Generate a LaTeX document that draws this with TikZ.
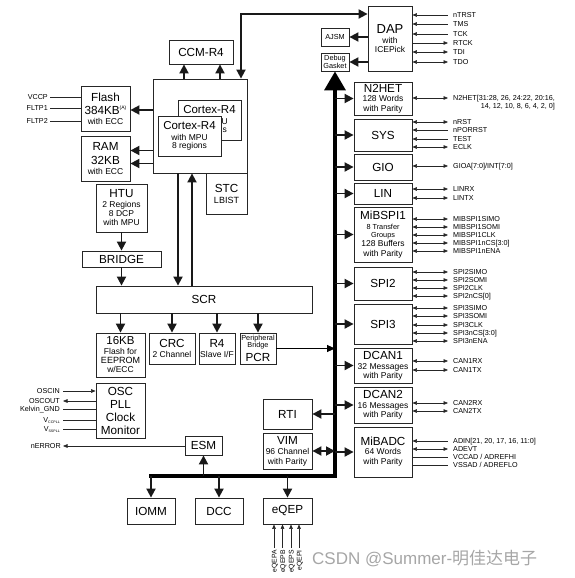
\documentclass[tikz,border=0pt]{standalone}
\usepackage{fontspec}
\setmainfont{Liberation Sans}
\newfontfamily\cjkfont{Noto Sans CJK SC}
\usetikzlibrary{arrows.meta,calc}
\newcommand\fs[2]{\fontsize{#1}{#2}\selectfont}
\newcommand\smt[1]{{\fs{8.5}{9}#1}}
\newcommand\tnt[1]{{\fs{7.3}{8}#1}}
\tikzset{
 box/.style={draw=black!85,line width=0.8pt,fill=white,inner sep=0pt,align=center,font=\fs{11.7}{13}},
 thk/.style={line width=1.8pt,draw=black!90,>={Triangle[length=9pt,width=9pt]}},
 sig/.style={line width=0.6pt,draw=black!85,>={Triangle[length=4.5pt,width=3.6pt]}},
 sigl/.style={font=\fs{7.2}{8},inner sep=0pt,text height=5.2pt,text depth=0pt},
 busln/.style={line width=3.5pt,draw=black,line join=miter},
}
\newcommand\rsig[5]{\node[sigl,anchor=west] (#1) at (453,#3) {#5};
 \draw[sig,#4] (#2.east |- #1.west) -- ($(#1.west)+(-5,0)$);}
\newcommand\lsig[6]{\node[sigl,anchor=east] (#1) at (#3) {#5};
 \draw[sig,#4] ($(#1.east)+(#6,0)$) -- (#2.west |- #1.east);}
\begin{document}
\begin{tikzpicture}[x=1pt,y=-1pt]
\useasboundingbox (0,0) rectangle (575,578);
% ---------- CPU area ----------
\node[box,minimum width=64pt,minimum height=24pt] (ccm) at (201,52) {CCM-R4};
\node[box,minimum width=94pt,minimum height=94pt] (cpu) at (200,126) {};
\node[box,minimum width=63pt,minimum height=40pt] (cortexb) at (209.5,120) {{\fs{11.5}{12}Cortex-R4}\\[-2.5pt]\smt{with MPU}\\[-4.5pt]\smt{8 regions}};
\node[box,minimum width=63pt,minimum height=40pt] (cortexf) at (189.5,136) {{\fs{11.5}{12}Cortex-R4}\\[-2.5pt]\smt{with MPU}\\[-4.5pt]\smt{8 regions}};
\node[box,minimum width=49pt,minimum height=45pt] (flash) at (105.5,108.5) {Flash\\384KB\raisebox{4.5pt}{\fs{5}{5}(A)}\\[-3pt]\smt{with ECC}};
\node[box,minimum width=49pt,minimum height=45pt] (ram) at (105.5,158.5) {RAM\\[1pt]32KB\\[-3pt]\smt{with ECC}};
\node[box,minimum width=41pt,minimum height=41pt] (stc) at (226.5,193.5) {STC\\[-2pt]{\fs{9}{10}LBIST}};
\node[box,minimum width=51pt,minimum height=48pt] (htu) at (121.5,208) {HTU\\[-3pt]\smt{2 Regions}\\[-4pt]\smt{8 DCP}\\[-4pt]\smt{with MPU}};
\node[box,minimum width=79pt,minimum height=16pt] (bridge) at (121.5,259) {BRIDGE};
\node[box,minimum width=216pt,minimum height=27pt] (scr) at (204,299.5) {SCR};
\node[box,minimum width=49pt,minimum height=44pt] (kb16) at (120.5,355) {{\fs{11.5}{12}16KB}\\[-3pt]\smt{Flash for}\\[-4pt]{\fs{9}{9}EEPROM}\\[-4pt]\smt{w/ECC}};
\node[box,minimum width=46pt,minimum height=31pt] (crc) at (172,348.5) {CRC\\[-3pt]\smt{2 Channel}};
\node[box,minimum width=36pt,minimum height=31pt] (r4) at (217,348.5) {R4\\[-3pt]\smt{Slave I/F}};
\node[box,minimum width=36pt,minimum height=31pt] (pcr) at (258,348.5) {\tnt{Peripheral}\\[-6pt]\tnt{Bridge}\\[1pt]PCR};
\node[box,minimum width=49pt,minimum height=55pt] (osc) at (120.5,410.5) {OSC\\PLL\\Clock\\Monitor};
\node[box,minimum width=37pt,minimum height=19pt] (esm) at (203.5,445.5) {ESM};
\node[box,minimum width=48pt,minimum height=26pt] (iomm) at (151,511) {IOMM};
\node[box,minimum width=48pt,minimum height=26pt] (dcc) at (219,511) {DCC};
\node[box,minimum width=49pt,minimum height=26pt] (eqep) at (287.5,511) {eQEP};
\node[box,minimum width=49pt,minimum height=30pt] (rti) at (287.5,414) {RTI};
\node[box,minimum width=49pt,minimum height=36pt] (vim) at (287.5,451) {VIM\\[-3pt]\smt{96 Channel}\\[-3pt]\smt{with Parity}};
% ---------- debug ----------
\node[box,minimum width=44pt,minimum height=65pt] (dap) at (390,38.5) {{\fs{13}{14}DAP}\\[-3pt]\smt{with}\\[-4pt]\smt{ICEPick}};
\node[box,minimum width=28pt,minimum height=18pt] (ajsm) at (335,37) {\tnt{AJSM}};
\node[box,minimum width=28pt,minimum height=18pt] (dbg) at (335,62) {\tnt{Debug}\\[-5pt]\tnt{Gasket}};
% ---------- peripherals ----------
\tikzset{per/.style={box,minimum width=58pt}}
\node[per,minimum height=33pt] (n2het) at (383,98.5) {N2HET\\[-4pt]\smt{128 Words}\\[-3pt]\smt{with Parity}};
\node[per,minimum height=32pt] (sys) at (383,135) {SYS};
\node[per,minimum height=26pt] (gio) at (383,167) {GIO};
\node[per,minimum height=21pt] (lin) at (383,193.5) {LIN};
\node[per,minimum height=55pt] (mibspi) at (383,234.5) {MiBSPI1\\[-3pt]\tnt{8 Transfer}\\[-5pt]\tnt{Groups}\\[-4pt]\smt{128 Buffers}\\[-3pt]\smt{with Parity}};
\node[per,minimum height=33pt] (spi2) at (383,283.5) {SPI2};
\node[per,minimum height=40pt] (spi3) at (383,324) {SPI3};
\node[per,minimum height=35pt] (dcan1) at (383,365.5) {DCAN1\\[-3pt]\smt{32 Messages}\\[-4pt]\smt{with Parity}};
\node[per,minimum height=36pt] (dcan2) at (383,405) {DCAN2\\[-3pt]\smt{16 Messages}\\[-4pt]\smt{with Parity}};
\node[per,minimum height=50pt] (mibadc) at (383,452) {MiBADC\\[-4pt]\smt{64 Words}\\[-3pt]\smt{with Parity}};
% ---------- main connectors ----------
\coordinate (c1) at ($(ccm.south)+(-17,0)$);
\coordinate (c2) at ($(ccm.south)+(19,0)$);
\draw[thk,->] (c1 |- cpu.north) -- (c1);
\draw[thk,->] (c2 |- cpu.north) -- (c2);
\coordinate (jt) at (241,14);
\draw[thk,<->] (jt |- cpu.north) -- (jt) -- (jt -| dap.west);
\draw[thk,->] (dap.west |- ajsm.east) -- (ajsm.east);
\draw[thk,->] (dap.west |- dbg.east) -- (dbg.east);
\coordinate (f1) at ($(flash.east)+(0,1.5)$);
\draw[thk,->] (cpu.west |- f1) -- (f1);
\coordinate (r1) at ($(ram.east)+(0,-8)$);
\coordinate (r2) at ($(ram.east)+(0,5)$);
\draw[thk,->] (cpu.west |- r1) -- (r1);
\draw[thk,->] (cpu.west |- r2) -- (r2);
\coordinate (k1) at (178,0);
\coordinate (k2) at (192,0);
\draw[thk,->] (k1 |- cpu.south) -- (k1 |- scr.north);
\draw[thk,<-] (k2 |- cpu.south) -- (k2 |- scr.north);
\draw[thk,->] (htu.south) -- (bridge.north);
\draw[thk,->] (bridge.south) -- (bridge.south |- scr.north);
\draw[thk,->] (kb16.north |- scr.south) -- (kb16.north);
\draw[thk,->] (crc.north |- scr.south) -- (crc.north);
\draw[thk,->] (r4.north |- scr.south) -- (r4.north);
\draw[thk,->] (pcr.north |- scr.south) -- (pcr.north);
% ---------- bus ----------
\coordinate (busbot) at (335,476);
\draw[busln,-{Triangle[length=19pt,width=21pt]}] (149,476) -- (busbot) -- (dbg.south);
\draw[line width=0.9pt,-{Triangle[length=8pt,width=7pt]}] (pcr.east) -- (busbot |- pcr.east);
\foreach \n in {n2het,sys,gio,lin,mibspi,spi2,spi3,dcan1,dcan2,mibadc}
  \draw[thk,->] (busbot |- \n.west) -- (\n.west);
\draw[thk,->] (busbot |- rti.east) -- (rti.east);
\draw[thk,<->] (vim.east) -- (busbot |- vim.east);
\draw[thk,->] (esm.south |- busbot) -- (esm.south);
\draw[thk,->] (iomm.north |- busbot) -- (iomm.north);
\draw[thk,->] (dcc.north |- busbot) -- (dcc.north);
\draw[thk,->] (eqep.north |- busbot) -- (eqep.north);
% ---------- right signals ----------
\rsig{s1}{dap}{15}{<-}{nTRST}
\rsig{s2}{dap}{24}{<-}{TMS}
\rsig{s3}{dap}{34}{<-}{TCK}
\rsig{s4}{dap}{43}{->}{RTCK}
\rsig{s5}{dap}{52}{<->}{TDI}
\rsig{s6}{dap}{62}{<->}{TDO}
\rsig{n2a}{n2het}{98}{<->}{N2HET[31:28, 26, 24:22, 20:16,}
\node[sigl,anchor=east] (n2b) at ($(n2a.east)+(0,7.5)$) {14, 12, 10, 8, 6, 4, 2, 0]};
\rsig{y1}{sys}{122}{<->}{nRST}
\rsig{y2}{sys}{130}{<-}{nPORRST}
\rsig{y3}{sys}{139}{<-}{TEST}
\rsig{y4}{sys}{147}{<->}{ECLK}
\rsig{g1}{gio}{166}{<->}{GIOA[7:0]/INT[7:0]}
\rsig{l1}{lin}{189}{<->}{LINRX}
\rsig{l2}{lin}{198}{<->}{LINTX}
\rsig{m1}{mibspi}{219}{<->}{MIBSPI1SIMO}
\rsig{m2}{mibspi}{227}{<->}{MIBSPI1SOMI}
\rsig{m3}{mibspi}{235}{<->}{MIBSPI1CLK}
\rsig{m4}{mibspi}{243}{<->}{MIBSPI1nCS[3:0]}
\rsig{m5}{mibspi}{251}{<->}{MIBSPI1nENA}
\rsig{p1}{spi2}{272}{<->}{SPI2SIMO}
\rsig{p2}{spi2}{280}{<->}{SPI2SOMI}
\rsig{p3}{spi2}{288}{<->}{SPI2CLK}
\rsig{p4}{spi2}{296}{<->}{SPI2nCS[0]}
\rsig{q1}{spi3}{308}{<->}{SPI3SIMO}
\rsig{q2}{spi3}{316}{<->}{SPI3SOMI}
\rsig{q3}{spi3}{325}{<->}{SPI3CLK}
\rsig{q4}{spi3}{333}{<->}{SPI3nCS[3:0]}
\rsig{q5}{spi3}{341}{<->}{SPI3nENA}
\rsig{c1s}{dcan1}{361}{<->}{CAN1RX}
\rsig{c2s}{dcan1}{370}{<->}{CAN1TX}
\rsig{c3s}{dcan2}{403}{<->}{CAN2RX}
\rsig{c4s}{dcan2}{411}{<->}{CAN2TX}
\rsig{a1}{mibadc}{441}{<-}{ADIN[21, 20, 17, 16, 11:0]}
\rsig{a2}{mibadc}{449}{<->}{ADEVT}
\rsig{a3}{mibadc}{457}{-}{VCCAD / ADREFHI}
\rsig{a4}{mibadc}{465}{-}{VSSAD / ADREFLO}
% ---------- left signals ----------
\lsig{v1}{flash}{48,97}{-}{VCCP}{2}
\lsig{v2}{flash}{48,108}{-}{FLTP1}{2}
\lsig{v3}{flash}{48,121}{-}{FLTP2}{2}
\lsig{o1}{osc}{60,391}{->}{OSCIN}{3}
\lsig{o2}{osc}{60,401}{<-}{OSCOUT}{3}
\lsig{o3}{osc}{60,409}{-}{Kelvin\_GND}{3}
\lsig{o4}{osc}{60,420}{-}{V\raisebox{-1pt}{\fs{3.6}{4}CCPLL}}{3}
\lsig{o5}{osc}{60,429}{-}{V\raisebox{-1pt}{\fs{3.6}{4}SSPLL}}{3}
\lsig{ne}{esm}{61,446}{<-}{nERROR}{2}
% ---------- eQEP signals ----------
\foreach \nm/\xx/\tx in {qa/274/eQEPA,qb/282.5/eQEPB,qs/291/eQEPS,qi/299/eQEPI}{
  \node[sigl,font=\fs{6.8}{7},text height=5pt,rotate=90,anchor=east] (\nm) at (\xx,550) {\tx};
  \draw[sig,->] ($(\nm.east)+(0,-2)$) -- (\nm.east |- eqep.south);
}
% ---------- watermark ----------
\node[anchor=west,inner sep=0pt,text=black!35,font=\fs{17}{18}] (wm) at (312,559) {CSDN @Summer-{\cjkfont 明佳达电子}};
\end{tikzpicture}
\end{document}
